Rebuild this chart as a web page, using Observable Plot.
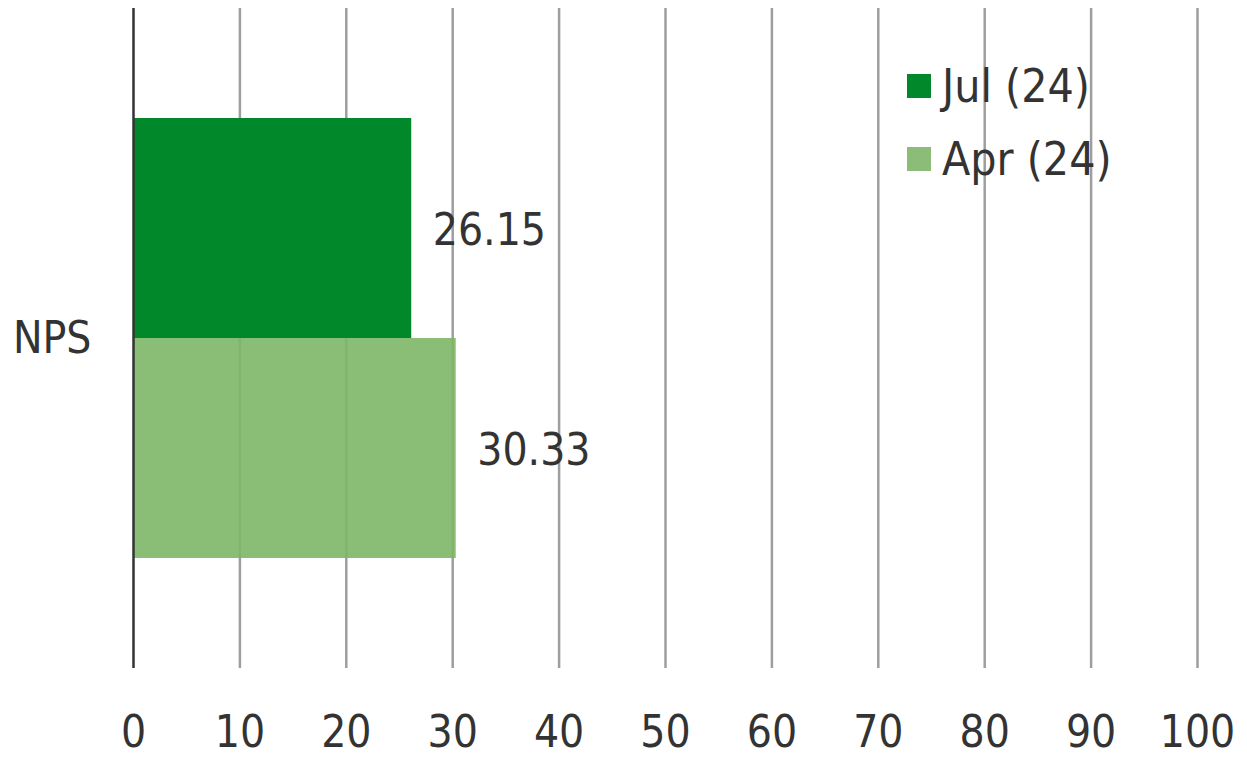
<!DOCTYPE html>
<html>
<head>
<meta charset="utf-8">
<script src="https://cdn.jsdelivr.net/npm/d3@7"></script>
<script src="https://cdn.jsdelivr.net/npm/@observablehq/plot@0.6"></script>
<style>
  html, body { margin: 0; padding: 0; background: #fff; }
  #wrap { position: relative; width: 1247px; height: 757px; font-family: "DejaVu Sans Condensed", "DejaVu Sans", sans-serif; color: #333; }
  #legend { position: absolute; left: 907px; top: 49px; font-size: 46px; }
  .item { display: flex; align-items: center; height: 73px; }
  .sw { width: 24px; height: 24px; margin-right: 11px; }
</style>
</head>
<body>
<div id="wrap"><div id="legend"></div></div>
<script>
const categories = ["NPS"];
const series = ["Jul (24)", "Apr (24)"];
const values = [26.15, 30.33];
const colors = ["#00882B", "#7DB666"];
const xTicks = [0, 10, 20, 30, 40, 50, 60, 70, 80, 90, 100];

const data = series.map((s, i) => ({category: categories[0], series: s, value: values[i]}));

const chart = Plot.plot({
  width: 1247,
  height: 757,
  marginLeft: 133,
  marginRight: 50,
  marginTop: 8,
  marginBottom: 89,
  style: {fontFamily: '"DejaVu Sans Condensed", "DejaVu Sans", sans-serif', fontSize: "44px", color: "#333", background: "#fff"},
  x: {domain: [0, 100]},
  fy: {domain: categories, padding: 0},
  y: {type: "band", domain: series, paddingInner: 0, paddingOuter: 0.5},
  color: {domain: series, range: colors},
  marks: [
    Plot.ruleX(xTicks.filter(d => d > 0), {stroke: "#9E9E9E", strokeWidth: 2.5, strokeOpacity: 1}),
    Plot.barX(data, {x: "value", y: "series", fy: "category", fill: "series", fillOpacity: d => d.series === series[1] ? 0.9 : 1}),
    Plot.ruleX([0], {stroke: "#333", strokeWidth: 2.5}),
    Plot.text(data, {x: "value", y: "series", fy: "category", text: d => d.value.toFixed(2), textAnchor: "start", dx: 21, dy: 2, fill: "#333", fontSize: 44}),
    Plot.axisX(xTicks, {tickSize: 0, tickPadding: 47, fontSize: 44, fill: "#333", label: null}),
    Plot.axisFy({anchor: "left", tickSize: 0, tickPadding: 42, fontSize: 44, fill: "#333", label: null}),
    Plot.axisY({ticks: [], label: null, tickSize: 0})
  ]
});
document.getElementById("wrap").prepend(chart);

const legend = document.getElementById("legend");
series.forEach((s, i) => {
  const item = document.createElement("div");
  item.className = "item";
  const sw = document.createElement("span");
  sw.className = "sw";
  sw.style.background = i === 1 ? "#8BBD78" : colors[i];
  const t = document.createElement("span");
  t.textContent = s;
  item.append(sw, t);
  legend.append(item);
});
</script>
</body>
</html>
